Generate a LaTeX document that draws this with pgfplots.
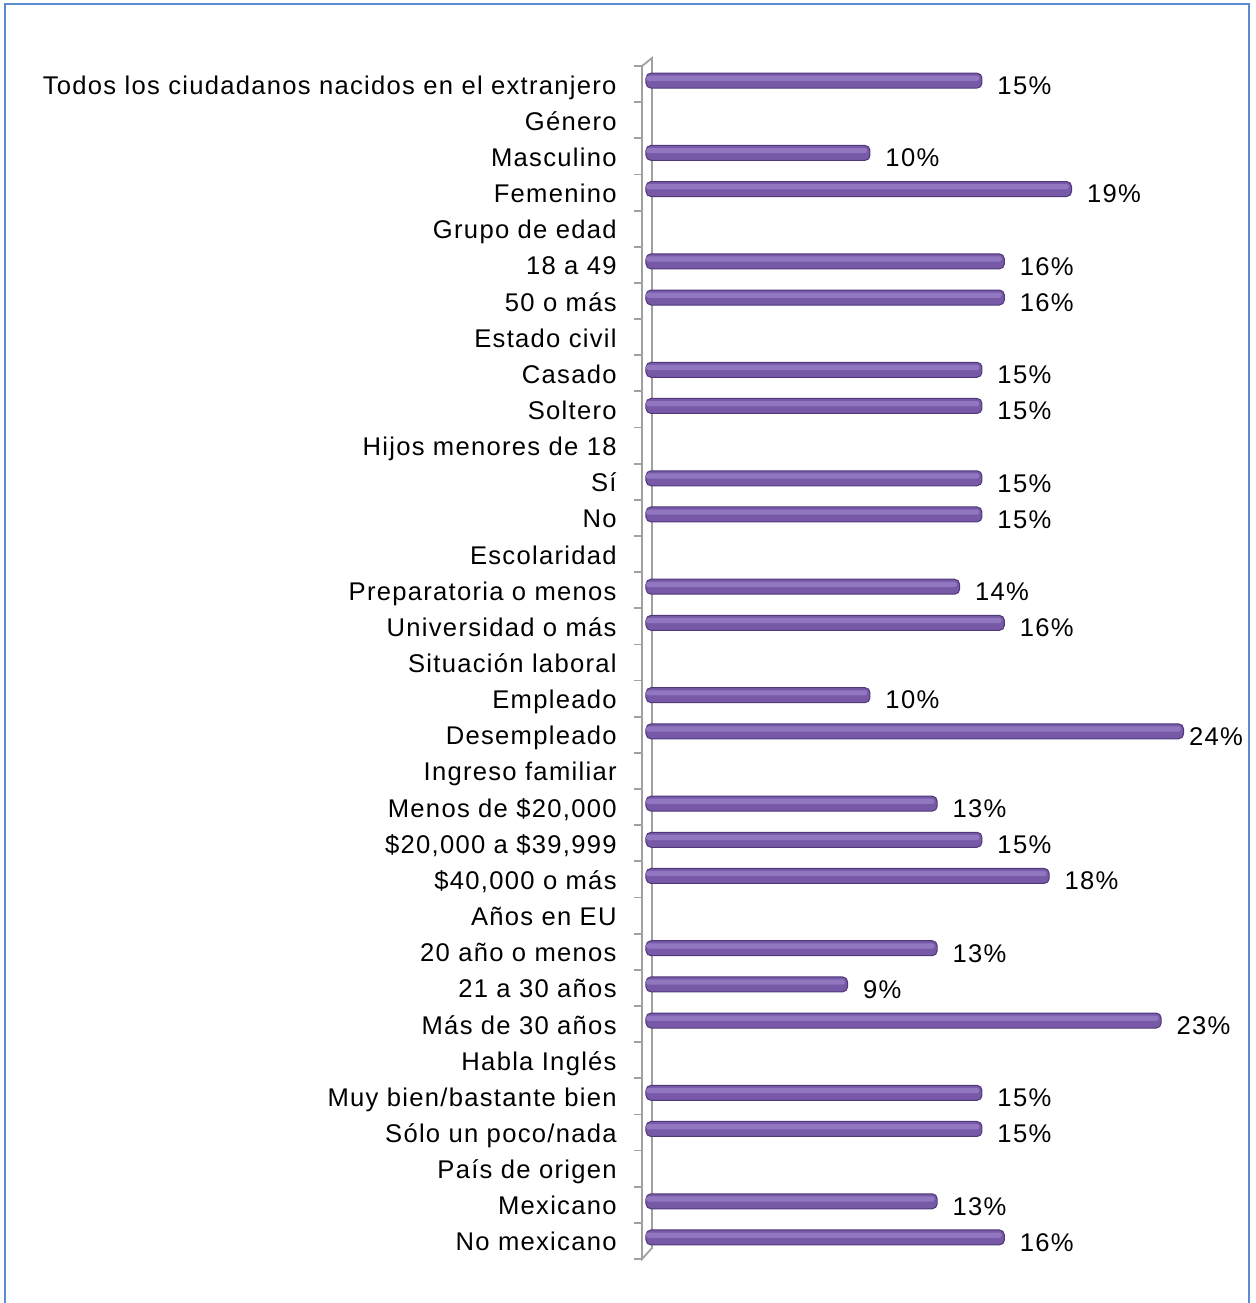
\documentclass[border=0pt]{standalone}
\usepackage{pgfplots}
\pgfplotsset{compat=1.18}
\usepackage{pgfplotstable}
\usepackage{fontspec}
\setmainfont{Liberation Sans}[LetterSpace=5]
\definecolor{barmid}{HTML}{7859A8}
\definecolor{barhi}{HTML}{9077BF}
\definecolor{barline}{HTML}{4E387A}
\definecolor{wallgray}{HTML}{A0A0A0}
\definecolor{frameblue}{HTML}{5B8BD0}

\pgfplotstableread{
y x dx
1 15 7.5
3 10 7.5
4 19 7.5
6 16 7.5
7 16 7.5
9 15 7.5
10 15 7.5
12 15 7.5
13 15 7.5
15 14 7.5
16 16 7.5
18 10 7.5
19 24 2.5
21 13 7.5
22 15 7.5
23 18 7.5
25 13 7.5
26 9 7.5
27 23 7.5
29 15 7.5
30 15 7.5
32 13 7.5
33 16 7.5
}\datatable

\begin{document}
\begin{tikzpicture}
\path[use as bounding box] (0,0) rectangle (627.5pt,-651.5pt);
\draw[frameblue, line width=1pt] (2.5pt,-660pt) -- (2.5pt,-2pt) -- (624.5pt,-2pt) -- (624.5pt,-660pt);
\draw[wallgray, line width=0.9pt] (321pt,-33pt) -- (326pt,-29pt) -- (326pt,-624pt) -- (321pt,-629.5pt) -- cycle;
\foreach \k in {0,...,33} \draw[wallgray, line width=0.9pt] (317pt,{-33pt-\k*18.076pt}) -- (321pt,{-33pt-\k*18.076pt});
\begin{axis}[
  at={(323pt,-33pt)}, anchor=north west,
  scale only axis, width=280pt, height=596.5pt,
  xbar, xmin=0, xmax=25, ymin=0.5, ymax=33.5, y dir=reverse,
  ytick={1,...,33},
  yticklabels={
    {Todos los ciudadanos nacidos en el extranjero},
    {Género},
    {Masculino\ },
    {Femenino},
    {Grupo de edad},
    {18 a 49},
    {50 o más},
    {Estado civil},
    {Casado},
    {Soltero},
    {Hijos menores de 18},
    {Sí},
    {No},
    {Escolaridad},
    {Preparatoria o menos},
    {Universidad o más},
    {Situación laboral},
    {Empleado},
    {Desempleado},
    {Ingreso familiar},
    {Menos de \$20,000},
    {\$20,000 a \$39,999},
    {\$40,000 o más},
    {Años en EU},
    {20 año o menos},
    {21 a 30 años},
    {Más de 30 años},
    {Habla Inglés},
    {Muy bien/bastante bien},
    {Sólo un poco/nada},
    {País de origen},
    {Mexicano},
    {No mexicano}},
  xtick=\empty,
  axis line style={draw=none},
  major tick length=0pt, tick style={draw=none},
  yticklabel style={font=\fontsize{12.8}{15}\selectfont, inner sep=0pt, anchor=base east, xshift=-14.5pt, yshift=-5pt},
  clip=false,
]
\addplot[xbar, bar width=7.5pt, bar shift=1.75pt,
  draw=barline, line width=0.5pt, fill=barmid, rounded corners=2.5pt,
  visualization depends on={\thisrow{dx}\as\dx},
  nodes near coords={\pgfmathprintnumber[assume math mode=true]{\pgfplotspointmeta}\%},
  every node near coord/.append style={font=\fontsize{12.8}{15}\selectfont, text=black, inner sep=0pt, anchor=base west, xshift=\dx pt, yshift=-6.9pt},
] table[x=x,y=y] {\datatable};
\addplot[xbar, bar width=2.6pt, bar shift=2.9pt, draw=none, fill=barhi, rounded corners=1.2pt, forget plot]
  table[x expr=\thisrow{x}-0.12,y=y] {\datatable};
\end{axis}
\end{tikzpicture}
\end{document}
